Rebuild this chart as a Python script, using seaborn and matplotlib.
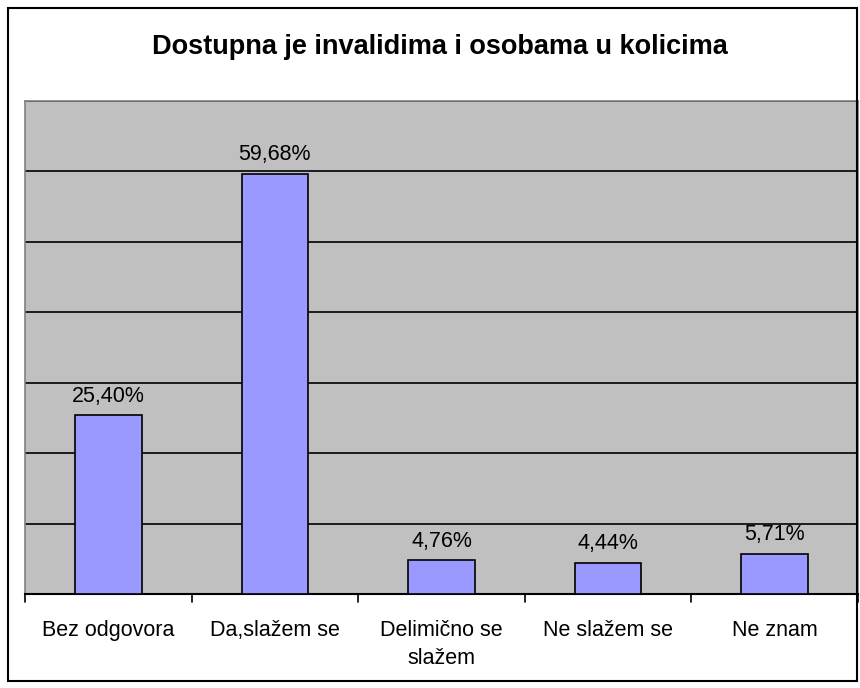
import matplotlib
matplotlib.use("Agg")
import matplotlib.pyplot as plt
import seaborn as sns
import pandas as pd
from matplotlib.patches import Rectangle

categories = ["Bez odgovora", "Da,slažem se", "Delimično se\nslažem", "Ne slažem se", "Ne znam"]
values = [25.40, 59.68, 4.76, 4.44, 5.71]
value_labels = ["25,40%", "59,68%", "4,76%", "4,44%", "5,71%"]
title = "Dostupna je invalidima i osobama u kolicima"

sns.set_theme(style="white")
plt.rcParams['font.family'] = ['Liberation Sans', 'DejaVu Sans']
plt.rcParams['text.color'] = 'black'
plt.rcParams['xtick.color'] = 'black'

df = pd.DataFrame({"cat": categories, "val": values})

fig = plt.figure(figsize=(8.6, 6.88), dpi=100)
ax = fig.add_axes([25/860, 94/688, 833/860, 493/688])
ax.set_facecolor("#C0C0C0")

sns.barplot(data=df, x="cat", y="val", ax=ax, color="#9999FF", width=0.4,
            edgecolor="black", linewidth=1.2, saturation=1, zorder=3)

ax.set_ylim(0, 70)
ax.set_xlim(-0.5, len(categories) - 0.5)
ax.set_yticks(range(0, 71, 10))
ax.set_yticklabels([])
ax.tick_params(axis="y", length=0)
ax.grid(axis="y", color="black", linewidth=1.2, zorder=1)
ax.set_axisbelow(True)

ax.set_xticks(range(len(categories)))
ax.set_xticklabels(categories, fontsize=15.5, linespacing=1.4, color="black")
ax.tick_params(axis="x", length=0, pad=19)
for b in [i - 0.5 for i in range(len(categories) + 1)]:
    ax.plot([b, b], [0, -1.2], color="black", lw=1.2, clip_on=False, zorder=5)

ax.set_xlabel("")
ax.set_ylabel("")
for s in ["left", "right", "top"]:
    ax.spines[s].set_color("#808080")
    ax.spines[s].set_linewidth(1.2)
ax.spines["bottom"].set_color("black")
ax.spines["bottom"].set_linewidth(1.5)

for i, (v, lab) in enumerate(zip(values, value_labels)):
    ax.annotate(lab, (i, v), xytext=(0, 6), textcoords="offset points",
                ha="center", va="bottom", fontsize=15.5, color="black")

fig.text(440/860, 1 - 47/688, title, ha="center", va="center", fontsize=19.5,
         fontweight="bold", color="black")

fig.patches.append(Rectangle((8/860, 7/688), 849/860, 673/688, transform=fig.transFigure,
                             fill=False, edgecolor="black", linewidth=1.5))

fig.savefig("out.png", dpi=100, facecolor="white")
